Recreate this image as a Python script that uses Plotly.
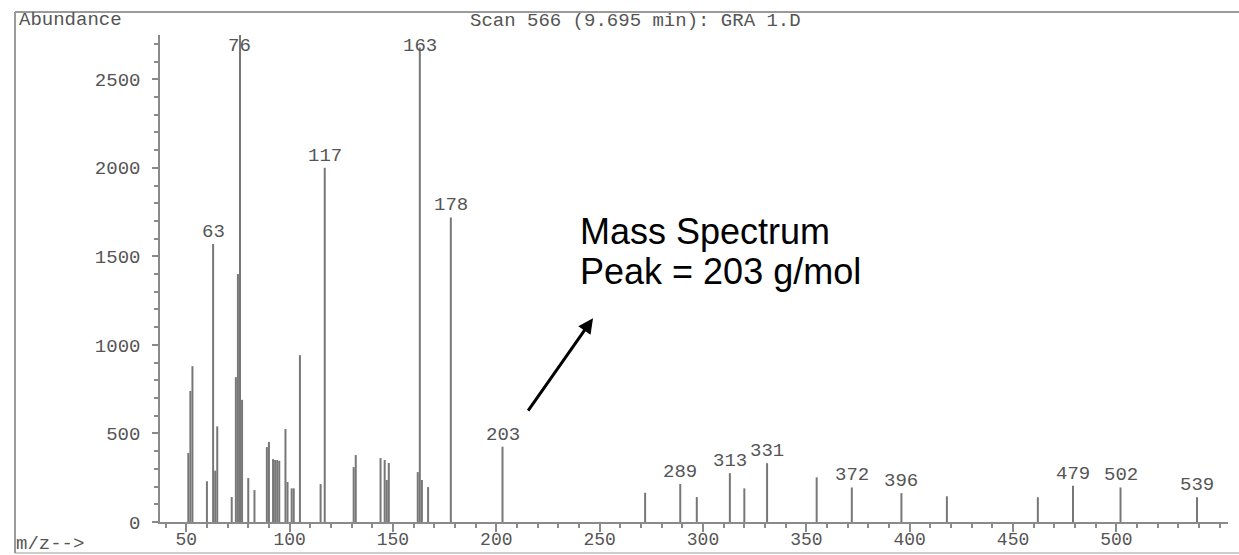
import plotly.graph_objects as go

# ---- data ----
mz = [51, 52, 53, 60, 63, 64, 65, 72, 74, 75, 76, 77, 80, 83, 89, 90, 92, 93, 94, 95,
      98, 99, 101, 102, 105, 115, 117, 131, 132, 144, 146, 147, 148, 162, 163, 164,
      167, 178, 203, 272, 289, 297, 313, 320, 331, 355, 372, 396, 418, 462, 479, 502, 539]
abundance = [390, 740, 880, 230, 1570, 290, 540, 141, 818, 1400, 2760, 690, 248, 180,
             423, 452, 355, 350, 350, 345, 525, 226, 190, 190, 942, 214, 2000, 310, 378,
             361, 350, 237, 333, 282, 2680, 237, 197, 1720, 425, 165, 215, 141, 276, 190,
             332, 252, 195, 163, 145, 140, 205, 195, 140]
labelled_peaks = [63, 76, 117, 163, 178, 203, 289, 313, 331, 372, 396, 479, 502, 539]
x_ticks = [50, 100, 150, 200, 250, 300, 350, 400, 450, 500]
y_ticks = [0, 500, 1000, 1500, 2000, 2500]

title_text = "Scan 566 (9.695 min): GRA 1.D"
y_title = "Abundance"
x_title = "m/z-->"
note_lines = ["Mass Spectrum", "Peak = 203 g/mol"]
arrow_head = (246.8, 1151)
arrow_tail = (214.9, 621)

# ---- geometry ----
W, H = 1239, 555
L, R, T, B = 160, 11, 35, 33
X_RANGE = [37.3, 554]
Y_RANGE = [0, 2750]
pw, ph = W - L - R, H - T - B


def px(x):
    return (x - L) / pw


def py(y):
    return (H - B - y) / ph


MONO = "Liberation Mono"
GREY_TXT = "#555555"
AXIS_C = "#8a8a8a"

xs, ys = [], []
for m, v in zip(mz, abundance):
    xs += [m, m, None]
    ys += [0, v, None]

fig = go.Figure()
fig.add_trace(go.Scatter(x=xs, y=ys, mode="lines",
                         line=dict(color="#777777", width=2),
                         hoverinfo="skip", showlegend=False))

annotations = []
lab_font = dict(family=MONO, size=19, color=GREY_TXT)
for m, v in zip(mz, abundance):
    if m in labelled_peaks:
        annotations.append(dict(x=m, y=min(v, 2620), xref="x", yref="y", text=str(m),
                                showarrow=False, yanchor="bottom", xanchor="center",
                                yshift=-1, font=lab_font))

annotations += [
    dict(x=px(17), y=py(20), xref="paper", yref="paper", text=y_title, showarrow=False,
         xanchor="left", yanchor="middle", font=lab_font),
    dict(x=px(468), y=py(21), xref="paper", yref="paper", text=title_text, showarrow=False,
         xanchor="left", yanchor="middle", font=lab_font),
    dict(x=px(14), y=py(544), xref="paper", yref="paper", text=x_title, showarrow=False,
         xanchor="left", yanchor="middle", font=lab_font),
    dict(x=px(578), y=py(232), xref="paper", yref="paper", text=note_lines[0], showarrow=False,
         xanchor="left", yanchor="middle",
         font=dict(family="Liberation Sans", size=36, color="black")),
    dict(x=px(578), y=py(271), xref="paper", yref="paper", text=note_lines[1], showarrow=False,
         xanchor="left", yanchor="middle",
         font=dict(family="Liberation Sans", size=36, color="black")),
    dict(x=arrow_head[0], y=arrow_head[1], xref="x", yref="y",
         ax=arrow_tail[0], ay=arrow_tail[1], axref="x", ayref="y",
         text="", showarrow=True, arrowhead=2, arrowsize=1, arrowwidth=3,
         arrowcolor="black", standoff=0, startstandoff=0),
]

frame_c = "#9a9a9a"
shapes = [
    dict(type="line", xref="paper", yref="paper", x0=px(15), x1=px(1239), y0=py(12), y1=py(12),
         line=dict(color=frame_c, width=2)),
    dict(type="line", xref="paper", yref="paper", x0=px(15), x1=px(15), y0=py(12), y1=py(553),
         line=dict(color=frame_c, width=2)),
    dict(type="line", xref="paper", yref="paper", x0=px(15), x1=px(1239), y0=py(553), y1=py(553),
         line=dict(color=frame_c, width=1)),
]

fig.update_layout(
    width=W, height=H,
    margin=dict(l=L, r=R, t=T, b=B, pad=0, autoexpand=False),
    plot_bgcolor="white", paper_bgcolor="white",
    annotations=annotations, shapes=shapes,
    xaxis=dict(range=X_RANGE, tickvals=x_ticks, ticks="outside", ticklen=8, tickwidth=1.5,
               tickcolor=AXIS_C, showline=True, linecolor=AXIS_C, linewidth=1.5,
               showgrid=False, zeroline=False, automargin=False, ticklabelstandoff=-8,
               tickfont=dict(family=MONO, size=18, color=GREY_TXT),
               minor=dict(dtick=10, tick0=0, ticks="outside", ticklen=4, tickcolor=AXIS_C,
                          showgrid=False)),
    yaxis=dict(range=Y_RANGE, tickvals=y_ticks, ticks="outside", ticklen=6, tickwidth=1.5,
               tickcolor=AXIS_C, showline=True, linecolor=AXIS_C, linewidth=1.5,
               showgrid=False, zeroline=False, ticklabelstandoff=8, automargin=False,
               tickfont=dict(family=MONO, size=19, color=GREY_TXT),
               minor=dict(dtick=100, tick0=0, ticks="outside", ticklen=4, tickcolor=AXIS_C,
                          showgrid=False)),
)

fig.write_html("out.html")
